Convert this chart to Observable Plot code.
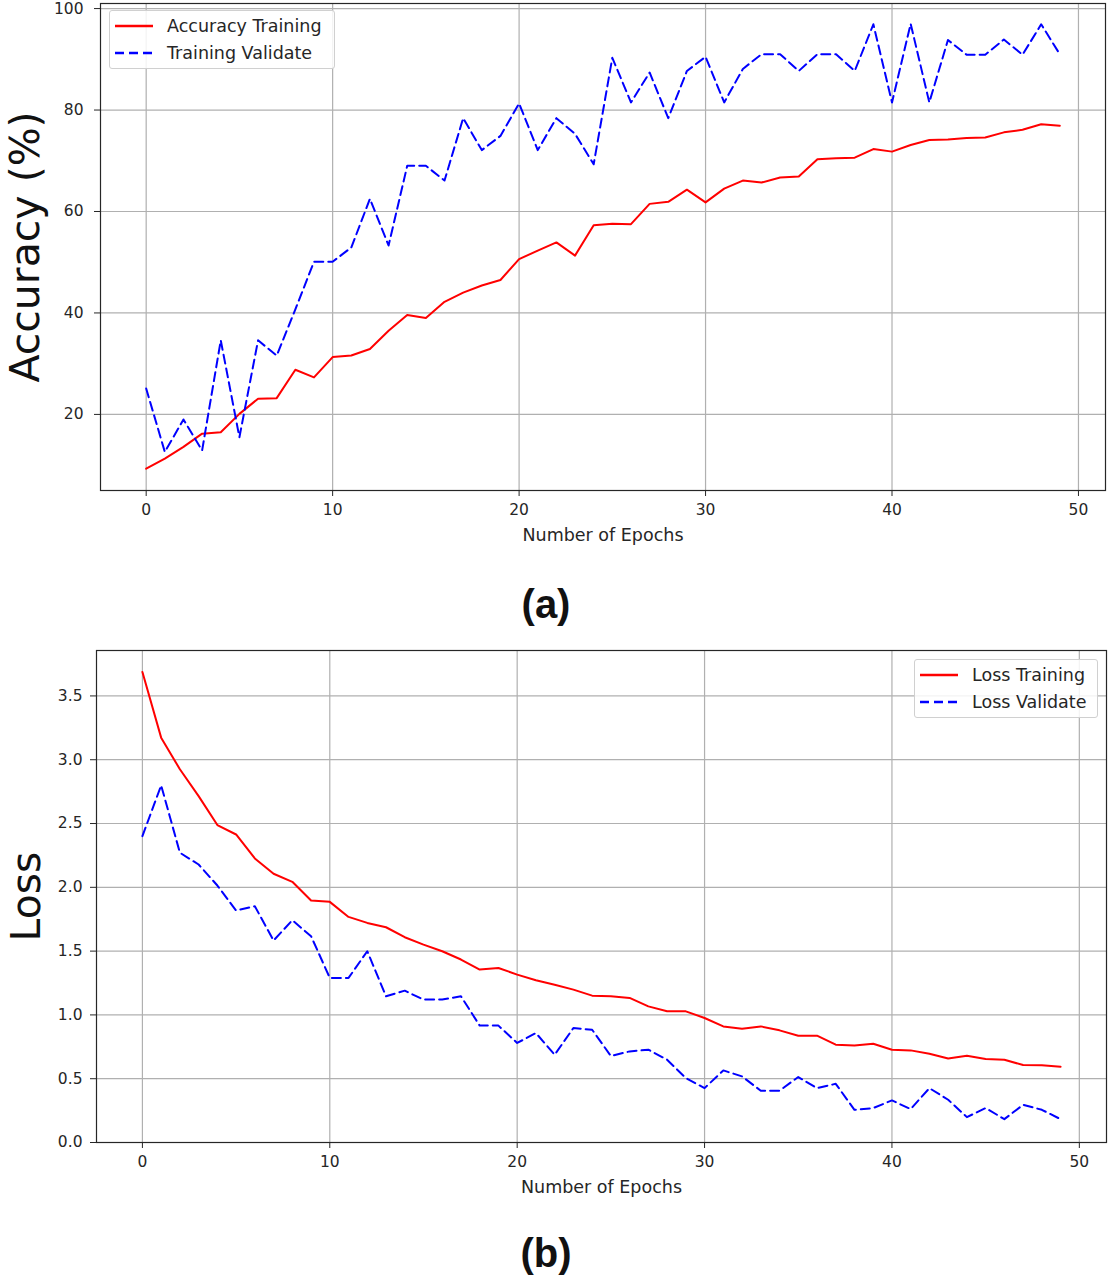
<!DOCTYPE html>
<html>
<head>
<meta charset="utf-8">
<script src="https://cdn.jsdelivr.net/npm/d3@7"></script>
<script src="https://cdn.jsdelivr.net/npm/@observablehq/plot@0.6"></script>
<style>
  html, body { margin: 0; padding: 0; background: #fff; }
  #root { position: relative; width: 1108px; height: 1276px; overflow: hidden; font-family: "DejaVu Sans", sans-serif; }
  .panel { position: absolute; left: 0; }
  .legend { position: absolute; border: 1px solid #d0d0d0; border-radius: 3px; background: rgba(255,255,255,0.85); box-sizing: border-box; }
  .legend .item { position: absolute; left: 0; height: 20px; display: flex; align-items: center; font-size: 17.5px; color: #262626; white-space: nowrap; }
  .legend svg { display: block; margin-left: 5px; margin-right: 14px; }
  .caption { position: absolute; font-family: "Liberation Sans", Arial, sans-serif; font-weight: bold; font-size: 40px; color: #111; transform: translate(-50%, -50%); }
</style>
</head>
<body>
<div id="root"></div>
<script>
// ---------- data ----------
const epochs = [0,1,2,3,4,5,6,7,8,9,10,11,12,13,14,15,16,17,18,19,20,21,22,23,24,25,26,27,28,29,30,31,32,33,34,35,36,37,38,39,40,41,42,43,44,45,46,47,48,49];

const accTraining = [9.3,11.3,13.6,16.2,16.5,20.1,23.1,23.2,28.8,27.3,31.3,31.6,32.9,36.5,39.6,39.0,42.2,44.0,45.4,46.5,50.6,52.3,53.9,51.3,57.3,57.6,57.5,61.5,61.9,64.3,61.8,64.5,66.1,65.7,66.7,66.9,70.3,70.5,70.6,72.3,71.8,73.1,74.1,74.2,74.5,74.6,75.6,76.1,77.2,76.9];
const accValidate = [25.1,12.6,19.0,12.9,34.6,15.5,34.6,31.6,40.7,50.1,50.1,52.9,62.5,53.3,69.0,69.0,66.1,78.4,72.1,74.9,81.3,72.1,78.4,75.3,69.3,90.3,81.5,87.4,78.4,87.7,90.5,81.5,88.1,91.0,91.0,87.7,91.0,91.0,87.7,96.9,81.5,97.0,81.5,93.8,90.9,90.9,93.9,90.9,96.9,91.0];

const lossTraining = [3.688,3.173,2.925,2.715,2.488,2.414,2.226,2.106,2.043,1.897,1.886,1.768,1.721,1.687,1.609,1.551,1.499,1.434,1.355,1.368,1.316,1.271,1.237,1.198,1.151,1.146,1.133,1.067,1.028,1.028,0.976,0.910,0.892,0.910,0.879,0.837,0.837,0.767,0.761,0.774,0.727,0.722,0.696,0.659,0.680,0.654,0.649,0.607,0.605,0.594];
const lossValidate = [2.401,2.799,2.271,2.179,2.014,1.818,1.852,1.583,1.742,1.617,1.290,1.290,1.499,1.146,1.190,1.120,1.120,1.146,0.916,0.916,0.780,0.858,0.688,0.897,0.884,0.678,0.714,0.727,0.649,0.505,0.426,0.565,0.518,0.406,0.406,0.513,0.426,0.460,0.256,0.270,0.330,0.262,0.426,0.335,0.199,0.270,0.183,0.296,0.256,0.183];

const xTicks = [0,10,20,30,40,50];
const accTicks = [20,40,60,80,100];
const lossTicks = [0.0,0.5,1.0,1.5,2.0,2.5,3.0,3.5];

const accSeries = ["Accuracy Training","Training Validate"];
const lossSeries = ["Loss Training","Loss Validate"];
const xLabel = "Number of Epochs";
const accLabel = "Accuracy (%)";
const lossLabel = "Loss";

// ---------- styles ----------
const RED = "#ff0000";
const BLUE = "#0000ff";
const GRID = "#b0b0b0";
const INK = "#262626";
const DASH = "9,5";

function panel({values1, values2, yDomain, yTicks, yFormat, yLabel, frameLeft, frameRight, frameBottom, yTickPad, yLabelX}) {
  const W = 1108, mt = 3, mb = 60, H = frameBottom + mb;
  const tbl1 = epochs.map((e, i) => ({e, v: values1[i]}));
  const tbl2 = epochs.map((e, i) => ({e, v: values2[i]}));
  return Plot.plot({
    width: W, height: H,
    marginLeft: frameLeft, marginRight: W - frameRight, marginTop: mt, marginBottom: mb,
    style: {fontFamily: "DejaVu Sans, sans-serif", background: "transparent", overflow: "visible"},
    x: {domain: [-2.45, 51.45]},
    y: {domain: yDomain},
    marks: [
      Plot.gridX(xTicks, {stroke: GRID, strokeOpacity: 1, strokeWidth: 1.2}),
      Plot.gridY(yTicks, {stroke: GRID, strokeOpacity: 1, strokeWidth: 1.2}),
      Plot.line(tbl1, {x: "e", y: "v", stroke: RED, strokeWidth: 2}),
      Plot.line(tbl2, {x: "e", y: "v", stroke: BLUE, strokeWidth: 2, strokeDasharray: DASH}),
      Plot.frame({stroke: INK, strokeWidth: 1.2}),
      Plot.axisX(xTicks, {tickSize: 6, tickPadding: 7, fontSize: 15.5, stroke: INK, fill: INK, label: null, tickFormat: d => String(d)}),
      Plot.axisY(yTicks, {tickSize: 6, tickPadding: yTickPad, fontSize: 15.5, stroke: INK, fill: INK, label: null, tickFormat: yFormat}),
      Plot.text([xLabel], {frameAnchor: "bottom", dy: 45, textAnchor: "middle", lineAnchor: "middle", fontSize: 17.5, fill: INK}),
      Plot.text([yLabel], {frameAnchor: "left", dx: yLabelX - frameLeft, rotate: -90, textAnchor: "middle", lineAnchor: "middle", fontSize: 41, fill: "#111"})
    ]
  });
}

function legendBox(series, {left, top, width, height}) {
  const box = document.createElement("div");
  box.className = "legend";
  Object.assign(box.style, {left: left + "px", top: top + "px", width: width + "px", height: height + "px"});
  series.forEach((name, i) => {
    const item = document.createElement("div");
    item.className = "item";
    item.style.top = (5 + i * 27) + "px";
    const dashed = i === 1;
    item.innerHTML = `<svg width="38" height="6"><line x1="0" y1="3" x2="38" y2="3" stroke="${dashed ? BLUE : RED}" stroke-width="2.4" ${dashed ? `stroke-dasharray="${DASH}"` : ""}/></svg><span>${name}</span>`;
    box.appendChild(item);
  });
  return box;
}

const root = document.getElementById("root");

// Panel (a)
const pa = panel({
  values1: accTraining, values2: accValidate,
  yDomain: [5.0, 101.0], yTicks: accTicks, yFormat: d => String(d), yLabel: accLabel,
  frameLeft: 100, frameRight: 1105, frameBottom: 490, yTickPad: 11, yLabelX: 25
});
pa.classList.add("panel");
pa.style.top = "0px";
root.appendChild(pa);
root.appendChild(legendBox(accSeries, {left: 109, top: 10, width: 226, height: 59}));

const ca = document.createElement("div");
ca.className = "caption"; ca.textContent = "(a)";
Object.assign(ca.style, {left: "546px", top: "604px"});
root.appendChild(ca);

// Panel (b)
const pb = panel({
  values1: lossTraining, values2: lossValidate,
  yDomain: [0, 3.856], yTicks: lossTicks, yFormat: d3.format(".1f"), yLabel: lossLabel,
  frameLeft: 96, frameRight: 1106, frameBottom: 495, yTickPad: 8, yLabelX: 26
});
pb.classList.add("panel");
pb.style.top = "647px";
root.appendChild(pb);
root.appendChild(legendBox(lossSeries, {left: 914, top: 659, width: 184, height: 59}));

const cb = document.createElement("div");
cb.className = "caption"; cb.textContent = "(b)";
Object.assign(cb.style, {left: "546px", top: "1253px"});
root.appendChild(cb);
</script>
</body>
</html>
